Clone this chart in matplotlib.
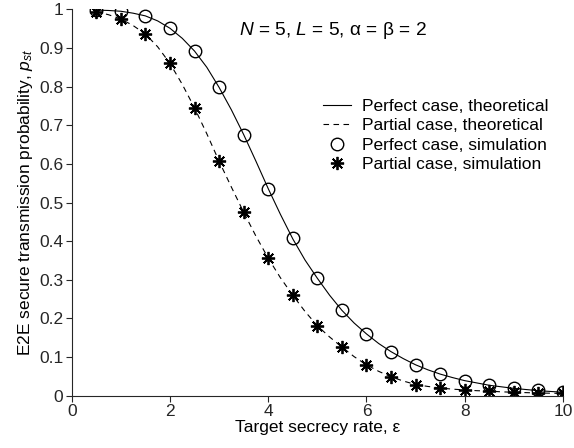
import numpy as np
import matplotlib
matplotlib.use('Agg')
from matplotlib import pyplot as plt

plt.rcParams['font.family'] = ['Liberation Sans', 'DejaVu Sans']
plt.rcParams['mathtext.fontset'] = 'custom'
plt.rcParams['mathtext.rm'] = 'Liberation Sans'
plt.rcParams['mathtext.it'] = 'Liberation Sans:italic'

# simulation points
eps_sim = [0.5, 1, 1.5, 2, 2.5, 3, 3.5, 4, 4.5, 5, 5.5, 6, 6.5, 7, 7.5, 8, 8.5, 9, 9.5, 10]
perfect_sim = [0.998, 0.996, 0.983, 0.951, 0.892, 0.798, 0.676, 0.536, 0.407, 0.304,
               0.221, 0.160, 0.114, 0.080, 0.056, 0.039, 0.027, 0.020, 0.014, 0.010]
partial_sim = [0.993, 0.975, 0.937, 0.860, 0.745, 0.607, 0.475, 0.356, 0.260, 0.181,
               0.126, 0.079, 0.049, 0.029, 0.020, 0.015, 0.012, 0.009, 0.008, 0.006]

# theoretical curves
eps_th = [0.5, 0.75, 1.0, 1.25, 1.5, 1.75, 2.0, 2.25, 2.5, 2.75, 3.0, 3.25, 3.5, 3.75,
          4.0, 4.25, 4.5, 4.75, 5.0, 5.25, 5.5, 5.75, 6.0, 6.25, 6.5, 6.75, 7.0, 7.25,
          7.5, 7.75, 8.0, 8.25, 8.5, 8.75, 9.0, 9.25, 9.5, 9.75, 10.0]
perfect_th = [0.998, 0.997, 0.995, 0.990, 0.983, 0.970, 0.951, 0.925, 0.892, 0.850,
              0.798, 0.740, 0.676, 0.607, 0.536, 0.469, 0.406, 0.351, 0.304, 0.260,
              0.221, 0.188, 0.160, 0.135, 0.114, 0.096, 0.080, 0.067, 0.056, 0.047,
              0.039, 0.033, 0.027, 0.023, 0.019, 0.016, 0.013, 0.011, 0.009]
partial_th = [0.994, 0.986, 0.975, 0.958, 0.936, 0.903, 0.860, 0.806, 0.745, 0.678,
              0.607, 0.540, 0.475, 0.413, 0.356, 0.305, 0.260, 0.218, 0.181, 0.152,
              0.126, 0.101, 0.080, 0.063, 0.049, 0.038, 0.029, 0.024, 0.020, 0.017,
              0.015, 0.013, 0.012, 0.010, 0.009, 0.008, 0.007, 0.0065, 0.006]

fs = 12.5

fig = plt.figure(figsize=(5.74, 4.48), dpi=100)
ax = fig.add_axes([0.1249, 0.1167, 0.8559, 0.8625])

ax.plot(eps_th, perfect_th, color='k', lw=0.8, label='Perfect case, theoretical')
ax.plot(eps_th, partial_th, color='k', lw=0.8, ls=(0, (5, 4)), label='Partial case, theoretical')
ax.plot(eps_sim, perfect_sim, ls='none', marker='o', ms=9, mfc='none', mec='k', mew=1.0,
        label='Perfect case, simulation')
ax.plot(eps_sim, partial_sim, ls='none', marker=(8, 2, 0), ms=9.5, mec='k', mew=1.3,
        label='Partial case, simulation')

ax.set_xlim(0, 10)
ax.set_ylim(0, 1)
ax.set_xticks([0, 2, 4, 6, 8, 10])
ax.set_yticks([0, 0.1, 0.2, 0.3, 0.4, 0.5, 0.6, 0.7, 0.8, 0.9, 1])
ax.set_yticklabels(['0', '0.1', '0.2', '0.3', '0.4', '0.5', '0.6', '0.7', '0.8', '0.9', '1'])
ax.tick_params(direction='out', length=4, width=0.8, labelsize=fs, colors='#262626', pad=2)
for s in ['top', 'right']:
    ax.spines[s].set_visible(False)
for s in ['left', 'bottom']:
    ax.spines[s].set_color('#262626')
    ax.spines[s].set_linewidth(0.8)

ax.set_xlabel('Target secrecy rate, ε', fontsize=fs, labelpad=1)
ax.set_ylabel(r'E2E secure transmission probability, $p_{st}$', fontsize=fs, labelpad=3)

ax.text(0.3405, 0.9335, r'$N$ = 5, $L$ = 5, α = β = 2', transform=ax.transAxes,
        fontsize=13.8, va='baseline', ha='left')

ax.legend(loc='upper left', bbox_to_anchor=(0.511, 0.769), frameon=False, fontsize=fs,
          handlelength=1.6, handletextpad=0.65, labelspacing=0.25, numpoints=1,
          borderaxespad=0, borderpad=0)

plt.savefig('out.png', dpi=100)
